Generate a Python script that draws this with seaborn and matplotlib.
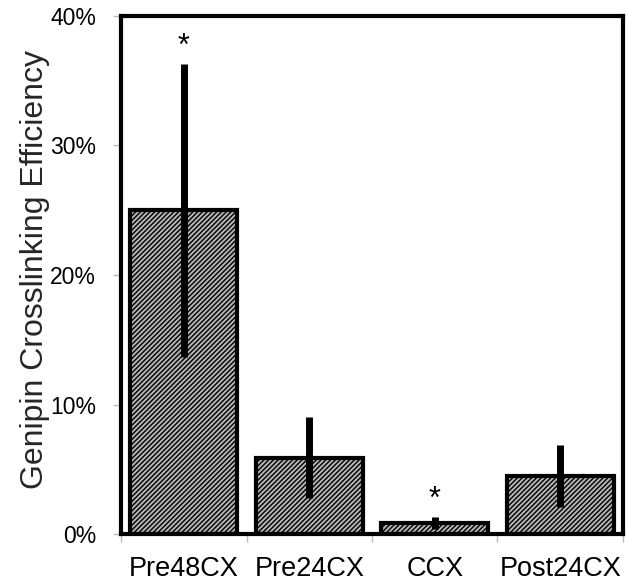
import matplotlib
matplotlib.use("Agg")
import matplotlib.pyplot as plt
import seaborn as sns
import pandas as pd
import numpy as np
from matplotlib.ticker import PercentFormatter, FixedLocator

categories = ["Pre48CX", "Pre24CX", "CCX", "Post24CX"]
means = [25.0, 5.9, 0.85, 4.5]
errors = [11.3, 3.1, 0.5, 2.4]
significant = [True, False, True, False]
yticks = [0, 10, 20, 30, 40]

sns.set_theme(style="white")
plt.rcParams['font.family'] = ['Liberation Sans', 'DejaVu Sans']
plt.rcParams['hatch.linewidth'] = 1.0
plt.rcParams['hatch.color'] = '#1a1a1a'

df = pd.DataFrame({"cat": categories, "val": means})

fig = plt.figure(figsize=(6.27, 5.83), dpi=100)
ax = fig.add_axes([0.193, 0.084, 0.8006, 0.8886])

sns.barplot(data=df, x="cat", y="val", ax=ax, color="#9a9a9a", width=0.85,
            edgecolor="black", linewidth=3, errorbar=None, saturation=1)
for p in ax.patches:
    p.set_hatch("///////")
    p.set_facecolor("#b4b4b4")

x = np.arange(len(categories))
ax.errorbar(x, means, yerr=errors, fmt="none", ecolor="black", elinewidth=5, capsize=0)
for xi, m, e, s in zip(x, means, errors, significant):
    if s:
        ax.text(xi, m + e + 0.15, "*", ha="center", va="bottom", fontsize=22, color="black")

ax.set_ylim(0, 40)
ax.set_xlim(-0.5, 3.5)
ax.set_yticks(yticks)
ax.yaxis.set_major_formatter(PercentFormatter(decimals=0))
ax.set_xlabel("")
ax.set_ylabel("Genipin Crosslinking Efficiency", fontsize=23)
ax.yaxis.set_label_coords(-0.142, 0.51)

for sp in ax.spines.values():
    sp.set_visible(True)
    sp.set_color("black")
    sp.set_linewidth(3)

ax.xaxis.set_minor_locator(FixedLocator([-0.5, 0.5, 1.5, 2.5, 3.5]))
ax.tick_params(axis="x", which="major", length=0, pad=16, labelsize=19.5, colors="black")
ax.tick_params(axis="x", which="minor", length=6, width=1, color="#bbbbbb", direction="out", bottom=True)
ax.tick_params(axis="y", which="major", length=6, width=1, color="#bbbbbb", direction="out",
               left=True, pad=12, labelsize=16.5, labelcolor="black")

fig.savefig("out.png", dpi=100, facecolor="white")
